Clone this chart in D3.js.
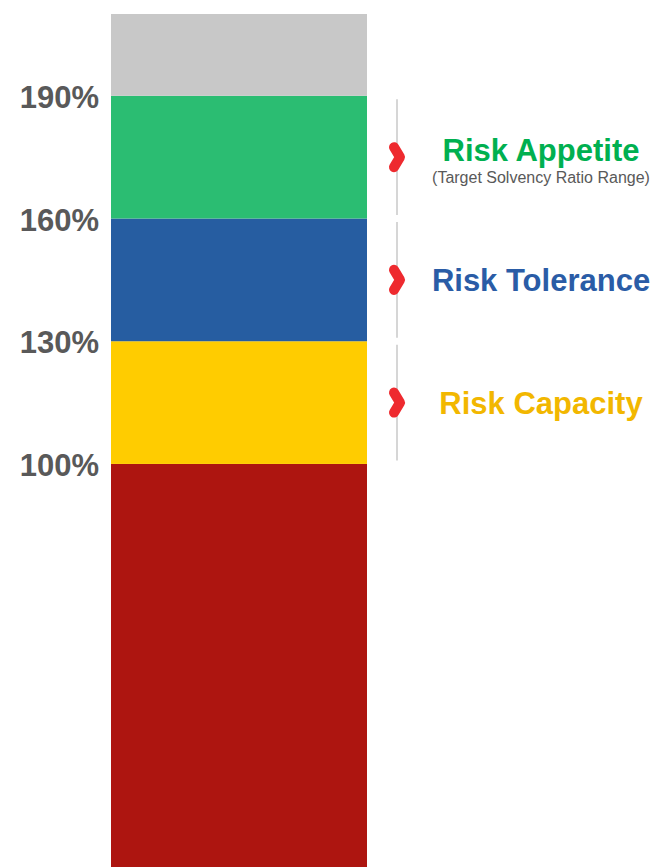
<!DOCTYPE html>
<html>
<head>
<meta charset="utf-8">
<script src="https://cdn.jsdelivr.net/npm/d3@7"></script>
<style>
  html, body { margin: 0; padding: 0; background: #fff; }
  svg { display: block; }
</style>
</head>
<body>
<svg id="chart" width="656" height="867"></svg>
<script>
// ---- data ----
const categories = ["Solvency Ratio"];
const bandNames = ["Below Minimum", "Risk Capacity", "Risk Tolerance", "Risk Appetite", "Above Target"];
const bandLower = [0, 100, 130, 160, 190];
const bandUpper = [100, 130, 160, 190, 210];
const bandColors = ["#AD1510", "#FFCC00", "#265DA1", "#2BBD72", "#C8C8C8"];
const tickValues = [100, 130, 160, 190];
const tickLabels = ["100%", "130%", "160%", "190%"];
const labelNames = ["Risk Appetite", "Risk Tolerance", "Risk Capacity"];
const labelLower = [160, 130, 100];
const labelUpper = [190, 160, 130];
const labelColors = ["#00B050", "#2A5CA6", "#F2B700"];
const labelSubtitles = ["(Target Solvency Ratio Range)", "", ""];

// ---- scales ----
const svg = d3.select("#chart");
const y = d3.scaleLinear().domain([0, 210]).range([873, 14]);
const x = d3.scaleBand().domain(categories).range([111, 367]).padding(0);
const FONT = "'Liberation Sans', Arial, sans-serif";

// ---- bar segments ----
svg.append("g").selectAll("rect")
  .data(bandNames.map((n, i) => ({ n, lo: bandLower[i], hi: bandUpper[i], c: bandColors[i] })))
  .join("rect")
  .attr("x", x(categories[0]))
  .attr("width", x.bandwidth())
  .attr("y", d => y(d.hi))
  .attr("height", d => y(d.lo) - y(d.hi))
  .attr("fill", d => d.c);

// ---- axis labels ----
const axis = d3.axisLeft(y).tickValues(tickValues).tickFormat((d, i) => tickLabels[i]).tickSize(0).tickPadding(0);
const axisG = svg.append("g").attr("transform", "translate(99,0)").call(axis);
axisG.select(".domain").remove();
axisG.selectAll("text")
  .attr("fill", "#595959")
  .attr("font-family", FONT)
  .attr("font-weight", "bold")
  .attr("font-size", "31px")
  .attr("dy", "0.37em");

// ---- right annotations ----
const lineX = 397;
const ann = svg.append("g").selectAll("g")
  .data(labelNames.map((n, i) => ({ n, lo: labelLower[i], hi: labelUpper[i], c: labelColors[i], sub: labelSubtitles[i] })))
  .join("g");

ann.append("line")
  .attr("x1", lineX).attr("x2", lineX)
  .attr("y1", d => y(d.hi) + 3.5)
  .attr("y2", d => y(d.lo) - 3.5)
  .attr("stroke", "#CCCCCC")
  .attr("stroke-width", 1.6);

ann.append("path")
  .attr("d", d => {
    const cy = y((d.lo + d.hi) / 2);
    return `M${lineX - 3},${cy - 10} L${lineX + 3},${cy} L${lineX - 3},${cy + 10}`;
  })
  .attr("fill", "none")
  .attr("stroke", "#EE2A2F")
  .attr("stroke-width", 10)
  .attr("stroke-linecap", "round")
  .attr("stroke-linejoin", "round");

ann.append("text")
  .attr("x", 541)
  .attr("y", (d, i) => y((d.lo + d.hi) / 2) + (d.sub ? 4 : 11))
  .attr("text-anchor", "middle")
  .attr("fill", d => d.c)
  .attr("font-family", FONT)
  .attr("font-weight", "bold")
  .attr("font-size", "31px")
  .text(d => d.n);

ann.filter(d => d.sub).append("text")
  .attr("x", 541)
  .attr("y", d => y((d.lo + d.hi) / 2) + 26)
  .attr("text-anchor", "middle")
  .attr("fill", "#595959")
  .attr("font-family", FONT)
  .attr("font-size", "16px")
  .text(d => d.sub);
</script>
</body>
</html>
